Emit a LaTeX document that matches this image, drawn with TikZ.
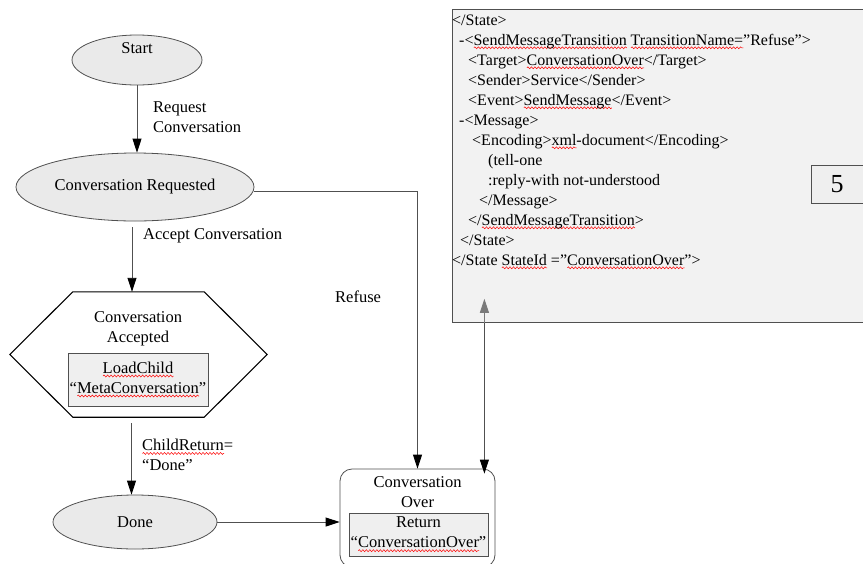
\documentclass[tikz,border=0pt]{standalone}
\usepackage{fontspec}
\setmainfont{Liberation Serif}
\usetikzlibrary{arrows.meta, shapes.geometric, calc, decorations.pathmorphing}
\usepackage{xcolor}
\definecolor{StateFill}{HTML}{EAEAEA}
\definecolor{BoxFill}{HTML}{EFEFEF}
\definecolor{XmlFill}{HTML}{F2F2F2}
\definecolor{LineGray}{HTML}{505050}
\definecolor{TipGray}{HTML}{7A7A7A}
% red spell-check wave under a word
\newlength\squigwd
\newcommand\squig[1]{\settowidth\squigwd{#1}\rlap{\tikz[baseline = 0pt]\draw[red, line width = 0.5pt, decorate, decoration = {snake, amplitude = 1pt, segment length = 3.5pt}] (0pt, -2.8pt) -- (\squigwd, -2.8pt);}#1}

\tikzset{
	every node/.style = {font = \fontsize{16.5}{20}\selectfont, inner sep = 0pt},
	state/.style = {ellipse, draw = LineGray, fill = StateFill, line width = 0.8pt},
	actionbox/.style = {draw = LineGray, fill = BoxFill, align = center, line width = 0.8pt},
	trans/.style = {draw = LineGray, line width = 0.9pt, -{Triangle[length = 14pt, width = 9pt, color = black]}},
	lbl/.style = {align = left, anchor = west},
}

\begin{document}
\begin{tikzpicture}[x = 1pt, y = -1pt]
	\useasboundingbox (0, 0) rectangle (863, 563);
	% states
	\node[state, minimum width = 130pt, minimum height = 50pt] (start) at (137, 60) {\raisebox{12pt}[\height][\depth]{Start}};
	\node[state, minimum width = 238pt, minimum height = 68pt] (requested) at (135, 187) {Conversation Requested};
	\node[minimum width = 257pt, minimum height = 125pt] (accepted) at (138.5, 354.5) {};
	\draw[line width = 1.1pt] (accepted.west) -- ([xshift = 63pt]accepted.north west) -- ([xshift = -63pt]accepted.north east) -- (accepted.east) -- ([xshift = -63pt]accepted.south east) -- ([xshift = 63pt]accepted.south west) -- cycle;
	\node[align = center] (acctitle) at (138, 329) {Conversation\\Accepted};
	\node[actionbox, minimum width = 140pt, minimum height = 53pt] (loadchild) at (138, 379.5) {\squig{LoadChild}\\“\squig{MetaConversation}”};
	\node[state, minimum width = 164pt, minimum height = 54pt] (done) at (135, 522) {Done};
	\node[draw = LineGray, line width = 0.8pt, rounded corners = 12pt, minimum width = 155pt, minimum height = 98pt] (over) at (417.5, 518) {};
	\node[align = center] (overtitle) at (417.5, 492) {Conversation\\Over};
	\node[actionbox, minimum width = 139pt, minimum height = 43pt] (return) at (418.5, 534.5) {Return\\“\squig{ConversationOver}”};

	% xml listing
	\node[draw = LineGray, fill = XmlFill, line width = 0.8pt, minimum width = 420pt, minimum height = 313pt, anchor = north west] (xml) at (452, 9) {};
	\foreach \ind/\txt [count = \i] in {
			0/{</State>},
			7/{-<\squig{SendMessageTransition} \squig{TransitionName=}”Refuse”>},
			16/{<Target>\squig{ConversationOver}</Target>},
			16/{<Sender>Service</Sender>},
			16/{<Event>\squig{SendMessage}</Event>},
			7/{-<Message>},
			20/{<Encoding>\squig{xml}-document</Encoding>},
			36/{(tell-one},
			36/{:reply-with not-understood},
			27/{</Message>},
			16/{</\squig{SendMessageTransition}>},
			8/{</State>},
			0/{</State \squig{StateId} =”\squig{ConversationOver}”>}
		} {
			\node[anchor = base west, font = \fontsize{16}{20}\selectfont] (line\i) at (452 + \ind, 5 + 20 * \i) {\txt};
		}
	\node[draw = LineGray, fill = BoxFill, line width = 0.8pt, minimum width = 52pt, minimum height = 38pt, font = \fontsize{26}{30}\selectfont] (pagenum) at (837, 184) {5};

	% transitions
	\draw[trans] (start.south) -- (start.south |- requested.north);
	\draw[trans, shorten <= 6pt] ([xshift = -3pt]requested.south) -- ([xshift = -3pt]requested.south |- accepted.north);
	\draw[trans, shorten <= 6pt] ([xshift = -7pt]accepted.south) -- ([xshift = -7pt]accepted.south |- done.north);
	\draw[trans] (done.east) -- (done.east -| over.west);
	\draw[trans] ([yshift = -4pt]requested.east) -| (over.north);
	\coordinate (overtip) at ([xshift = -11pt, yshift = -5pt]over.north east);
	\coordinate (xmlfoot) at (xml.south -| overtip);
	\draw[trans] (xmlfoot) -- (overtip);
	\draw[draw = TipGray, line width = 0.9pt, -{Triangle[length = 14pt, width = 9pt]}] (xmlfoot) -- ++(0, -24);

	% labels
	\node[lbl] (reqlbl) at (153, 117) {Request\\Conversation};
	\node[lbl] (acclbl) at (143, 236) {Accept Conversation};
	\node[lbl] (refuselbl) at (335, 297) {Refuse};
	\node[lbl] (childlbl) at (142, 455) {\squig{ChildReturn}=\\“Done”};
\end{tikzpicture}
\end{document}
